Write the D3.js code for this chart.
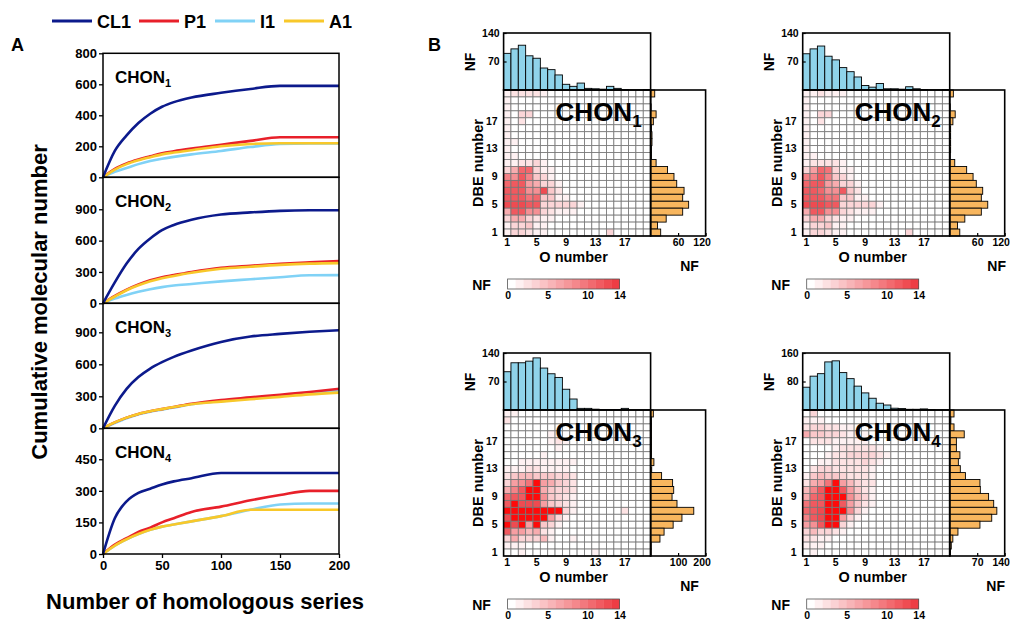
<!DOCTYPE html>
<html><head><meta charset="utf-8">
<script src="https://cdn.jsdelivr.net/npm/d3@7"></script>
<style>
body{margin:0;background:#fff}
svg text{font-family:"Liberation Sans",Arial,sans-serif;font-weight:bold;fill:#000}
</style></head>
<body><svg id="c" width="1012" height="621"></svg>
<script>
// ---------------- DATA ----------------
const seriesNames = ["CL1","P1","I1","A1"];
const seriesColors = {CL1:"#0c1a8c", P1:"#e8202a", I1:"#80d2f6", A1:"#f8c82a"};
const xSeries = [0,10,20,30,40,50,60,75,100,125,150,175,200];

const chon1Lines = {
  CL1:[0,170,270,350,410,455,485,515,545,570,590,590,590],
  P1:[0,55,90,115,135,155,168,185,210,235,258,258,258],
  A1:[0,50,85,110,130,148,160,175,200,215,220,220,220],
  I1:[0,35,60,85,105,120,132,148,170,195,215,218,218]
};
const chon2Lines = {
  CL1:[0,200,380,520,620,700,750,800,850,870,885,890,890],
  P1:[0,70,130,180,220,250,270,300,340,360,378,392,405],
  A1:[0,65,125,172,210,240,262,292,330,350,368,380,385],
  I1:[0,45,80,110,135,155,170,185,210,230,250,268,270]
};
const chon3Lines = {
  CL1:[0,210,370,480,560,620,670,730,810,860,885,905,920],
  P1:[0,55,100,135,160,180,200,230,265,290,315,340,370],
  I1:[0,50,95,130,155,175,195,225,255,280,305,330,355],
  A1:[0,55,100,135,160,180,200,225,250,272,295,318,335]
};
const chon4Lines = {
  CL1:[0,170,250,290,310,330,345,360,385,385,385,385,385],
  P1:[0,45,75,105,125,150,170,200,225,255,280,300,300],
  I1:[0,40,70,95,115,130,140,155,180,210,235,240,240],
  A1:[0,40,70,95,115,130,140,155,180,210,210,210,210]
};
const ticksA1 = [0,200,400,600,800];
const ticksA2 = [0,300,600,900];
const ticksA3 = [0,300,600,900];
const ticksA4 = [0,150,300,450];
const ticksAx = [0,50,100,150,200];

const oNumbers = [1,2,3,4,5,6,7,8,9,10,11,12,13,14,15,16,17,18,19,20];
const dbeNumbers = [21,20,19,18,17,16,15,14,13,12,11,10,9,8,7,6,5,4,3,2,1];
const oTicks = [1,5,9,13,17];
const dbeTicks = [1,5,9,13,17];
const cbTicks = [0,5,10,14];

// heat maps: rows DBE 21 (top) ... DBE 1 (bottom), columns O 1..20
const heat1 = [
 [1,2,2,2,2,1,0,0,0,0,0,0,0,0,0,0,0,0,0,0],
 [1,0,0,0,0,0,0,0,0,0,0,0,0,0,0,0,0,0,0,0],
 [1,0,0,0,0,0,0,0,0,0,0,0,0,0,0,0,0,0,0,0],
 [1,0,3,3,0,0,0,0,0,0,0,0,0,0,0,0,0,0,0,0],
 [1,0,2,0,0,0,0,0,0,0,0,0,0,0,0,0,0,0,0,0],
 [1,0,0,0,0,0,0,0,0,0,0,0,0,0,0,0,0,0,0,0],
 [1,0,0,0,0,0,0,0,0,0,0,0,0,0,0,0,0,0,0,0],
 [1,1,0,0,0,0,0,0,0,0,0,0,0,0,0,0,0,0,0,0],
 [1,0,0,0,0,0,0,0,0,0,0,0,0,0,0,0,0,0,0,0],
 [1,1,0,0,0,0,0,0,0,0,0,0,0,0,0,0,0,0,0,0],
 [1,1,2,2,3,1,0,0,0,0,0,0,0,0,0,0,0,0,0,0],
 [3,6,11,11,3,1,1,0,0,0,0,0,0,0,0,0,0,0,0,0],
 [9,8,12,9,4,3,1,0,0,0,0,0,0,0,0,0,0,0,0,0],
 [11,12,12,7,6,3,3,1,0,0,0,0,0,0,0,0,0,0,0,0],
 [12,12,12,8,8,13,4,2,0,0,0,0,0,0,0,0,0,0,0,0],
 [12,12,12,10,11,4,4,1,1,0,0,0,0,0,0,0,0,0,0,0],
 [13,13,13,12,12,3,3,3,3,3,1,0,0,0,0,0,0,0,0,0],
 [6,12,12,8,8,3,2,1,1,1,0,0,0,0,0,0,0,0,0,0],
 [3,6,6,3,2,1,1,0,0,0,0,0,0,0,0,0,0,0,0,0],
 [1,3,3,4,1,1,0,0,0,0,0,0,0,0,0,0,0,0,0,0],
 [1,3,3,2,1,1,0,0,0,0,0,0,0,0,3,0,0,0,0,0]
];
const heat2 = [
 [1,1,2,1,1,1,0,0,0,0,0,0,0,0,0,0,0,0,0,0],
 [1,0,0,0,0,0,0,0,0,0,0,0,0,0,0,0,0,0,0,0],
 [1,0,0,0,0,0,0,0,0,0,0,0,0,0,0,0,0,0,0,0],
 [1,0,3,3,0,0,0,0,0,0,0,0,0,0,0,0,0,0,0,0],
 [1,0,2,0,0,0,0,0,0,0,0,0,0,0,0,0,0,0,0,0],
 [1,0,0,0,0,0,0,0,0,0,0,0,0,0,0,0,0,0,0,0],
 [1,0,0,0,0,0,0,0,0,0,0,0,0,0,0,0,0,0,0,0],
 [1,0,0,0,0,0,0,0,0,0,0,0,0,0,0,0,0,0,0,0],
 [1,0,0,0,0,0,0,0,0,0,0,0,0,0,0,0,0,0,0,0],
 [1,1,0,0,0,0,0,0,0,0,0,0,0,0,0,0,0,0,0,0],
 [1,2,2,2,2,1,0,0,0,0,0,0,0,0,0,0,0,0,0,0],
 [3,7,11,10,3,1,1,0,0,0,0,0,0,0,0,0,0,0,0,0],
 [9,9,12,9,4,3,1,0,0,0,0,0,0,0,0,0,0,0,0,0],
 [11,12,12,7,6,3,3,1,0,0,0,0,0,0,0,0,0,0,0,0],
 [12,12,11,8,8,12,4,2,0,0,0,0,0,0,0,0,0,0,0,0],
 [12,12,12,10,10,4,4,1,1,0,0,0,0,0,0,0,0,0,0,0],
 [13,13,13,12,12,3,3,3,3,3,1,0,0,0,0,0,0,0,0,0],
 [6,12,12,8,8,3,2,1,1,1,0,0,0,0,0,0,0,0,0,0],
 [3,6,6,3,2,1,1,0,0,0,0,0,0,0,0,0,0,0,0,0],
 [1,3,3,4,1,1,0,0,0,0,0,0,0,0,0,0,0,0,0,0],
 [1,3,3,2,1,1,0,0,0,0,0,0,0,0,3,0,0,0,0,0]
];
const heat3 = [
 [1,1,0,0,0,0,0,0,0,0,0,0,0,0,0,0,0,0,0,0],
 [2,0,0,0,0,0,0,0,0,0,0,0,0,0,0,0,0,0,0,0],
 [0,0,0,0,0,0,0,0,0,0,0,0,0,0,0,0,0,0,0,0],
 [0,0,0,0,0,0,1,1,0,0,0,0,0,0,0,0,0,0,0,0],
 [0,0,0,0,0,0,1,2,1,0,0,0,0,0,0,0,0,0,0,0],
 [0,0,0,0,0,0,0,1,0,0,0,0,0,0,0,0,0,0,0,0],
 [0,0,0,0,0,1,0,0,0,0,0,0,0,0,0,0,0,0,0,0],
 [0,0,1,1,1,1,1,1,1,1,0,0,0,0,0,0,0,0,0,0],
 [1,1,1,2,2,1,1,1,1,0,0,0,0,0,0,0,0,0,0,0],
 [2,4,5,5,4,4,4,3,3,2,0,0,0,0,0,0,0,0,0,0],
 [3,7,8,10,16,7,6,4,3,2,0,0,0,0,0,0,0,0,0,0],
 [6,9,12,16,16,6,4,3,3,2,0,0,0,0,0,0,0,0,0,0],
 [11,12,12,16,16,8,4,3,2,1,0,0,0,0,0,0,0,0,0,0],
 [12,16,13,13,13,7,4,3,2,1,0,0,0,0,0,0,0,0,0,0],
 [16,16,16,16,16,16,16,16,3,1,0,0,0,0,0,0,2,0,0,0],
 [13,16,16,16,16,16,7,3,1,0,0,0,0,0,0,0,0,0,0,0],
 [16,13,16,7,16,4,3,1,0,0,0,0,0,0,0,0,0,0,0,0],
 [12,7,7,5,6,2,1,0,0,0,0,0,0,0,0,0,0,0,0,0],
 [3,6,3,3,3,5,1,0,0,1,0,0,0,0,0,0,0,0,0,0],
 [1,1,1,0,0,0,0,0,0,0,0,0,0,0,0,0,0,0,0,0],
 [0,0,1,0,0,0,0,0,0,0,0,0,1,0,0,0,0,0,0,0]
];
const heat4 = [
 [0,3,0,0,0,0,0,0,0,0,0,0,0,0,0,0,0,0,0,0],
 [1,1,1,0,0,0,0,0,0,0,0,0,0,0,0,0,0,0,0,0],
 [2,3,3,2,2,1,1,0,0,0,0,0,0,0,0,0,0,0,0,0],
 [6,4,4,3,3,2,1,1,1,0,0,0,0,0,0,0,0,0,0,0],
 [0,2,2,2,1,1,1,1,1,0,0,0,0,0,0,0,0,0,0,0],
 [0,0,0,0,1,2,2,2,2,2,1,0,0,0,0,0,0,0,0,0],
 [0,0,0,1,2,2,3,3,3,3,2,1,0,0,0,0,0,0,0,0],
 [0,0,1,1,2,2,2,2,3,2,1,0,0,0,0,0,0,0,0,0],
 [0,2,3,3,2,2,2,2,2,1,0,0,0,0,0,0,0,0,0,0],
 [1,4,5,4,4,3,2,2,2,1,0,0,0,0,0,0,0,0,0,0],
 [2,6,7,10,16,7,5,3,2,2,0,0,0,0,0,0,0,0,0,0],
 [5,9,12,16,16,12,7,4,2,1,0,0,0,0,0,0,0,0,0,0],
 [6,11,12,16,16,16,8,5,3,1,0,0,0,0,0,0,0,0,0,0],
 [10,12,12,16,16,12,7,4,2,1,0,0,0,0,0,0,0,0,0,0],
 [11,12,13,16,16,16,8,3,1,0,0,0,0,0,0,0,0,0,0,0],
 [9,12,13,16,16,7,3,1,0,0,0,0,0,0,0,0,0,0,0,0],
 [7,8,12,16,16,3,1,0,0,0,0,0,0,0,0,0,0,0,0,0],
 [3,5,3,3,2,1,0,0,0,0,0,0,0,0,0,0,0,0,0,0],
 [2,2,1,1,0,0,0,0,0,0,0,0,0,0,0,0,0,0,0,0],
 [1,1,1,0,0,0,0,0,0,0,0,0,0,0,0,0,0,0,0,0],
 [0,1,0,0,0,0,0,0,0,0,0,0,0,0,0,0,0,0,0,0]
];
// top histograms (O 1..20)
const top1 = [90,101,110,84,78,54,50,37,14,9,17,4,3,2,9,4,1,0,0,1];
const top2 = [89,101,108,83,74,55,45,32,11,7,16,3,3,2,8,3,1,0,0,1];
const top3 = [94,116,116,120,128,103,89,80,51,27,4,4,2,1,1,1,4,0,0,0];
const top4 = [64,95,102,135,138,105,88,67,48,33,19,14,5,4,2,2,3,1,0,0];
// right histograms (DBE 21 .. 1)
const right1 = [9,0,1,12,6,2,3,3,2,2,12,37,51,57,73,70,83,70,34,15,22];
const right2 = [8,0,1,12,7,2,2,2,2,1,11,37,51,58,72,69,83,69,33,17,22];
const right3 = [10,3,3,3,3,3,3,12,4,40,80,84,78,96,157,114,82,49,34,2,2];
const right4 = [11,3,11,37,17,17,26,22,27,40,77,78,99,112,120,107,77,21,8,4,2];
const topTicks1 = [70,140], topTicks3 = [70,140], topTicks4 = [80,160];
const rightTicks1 = [60,120], rightTicks3 = [100,200], rightTicks4 = [70,140];

// ---------------- DRAW ----------------
const svg = d3.select("#c");
const FONT = '"Liberation Sans",Arial,sans-serif';

// legend
const legX = [52,139,215,284];
seriesNames.forEach((n,i)=>{
  svg.append("line").attr("x1",legX[i]).attr("x2",legX[i]+40).attr("y1",21).attr("y2",21)
    .attr("stroke",seriesColors[n]).attr("stroke-width",3);
  svg.append("text").attr("x",legX[i]+45).attr("y",28).attr("font-size",18).text(n);
});
svg.append("text").attr("x",11).attr("y",51).attr("font-size",18).text("A");
svg.append("text").attr("x",428).attr("y",51).attr("font-size",18).text("B");

// panel A
const xA = d3.scaleLinear().domain([0,200]).range([103,339]);
const subs = [
  {sub:"1", top:53.3, bottom:177.3, max:800, ticks:ticksA1, data:chon1Lines},
  {sub:"2", top:177.3, bottom:303.3, max:1206, ticks:ticksA2, data:chon2Lines},
  {sub:"3", top:303.3, bottom:428.3, max:1172, ticks:ticksA3, data:chon3Lines},
  {sub:"4", top:428.3, bottom:554, max:597, ticks:ticksA4, data:chon4Lines}
];
const drawOrder = ["I1","P1","A1","CL1"];
subs.forEach((s,si)=>{
  const y = d3.scaleLinear().domain([0,s.max]).range([s.bottom,s.top]);
  const g = svg.append("g");
  const ax = g.append("g").attr("transform",`translate(${xA(0)},0)`)
    .call(d3.axisLeft(y).tickValues(s.ticks).tickSize(4).tickPadding(2).tickSizeOuter(0));
  ax.select(".domain").remove();
  ax.selectAll("text").attr("font-size",13).attr("font-family",FONT).attr("font-weight","bold");
  ax.selectAll("line").attr("stroke-width",1.3);
  const line = d3.line().x((d,i)=>xA(xSeries[i])).y(d=>y(d)).curve(d3.curveMonotoneX);
  drawOrder.forEach(n=>{
    g.append("path").datum(s.data[n]).attr("d",line).attr("fill","none")
      .attr("stroke",seriesColors[n]).attr("stroke-width",2.6);
  });
  g.append("rect").attr("x",xA(0)).attr("y",s.top).attr("width",xA(200)-xA(0)).attr("height",s.bottom-s.top)
    .attr("fill","none").attr("stroke","#000").attr("stroke-width",1.5);
  const t = g.append("text").attr("x",115).attr("y",s.top+30).attr("font-size",17);
  t.append("tspan").text("CHON");
  t.append("tspan").attr("font-size",11).attr("dy",4).text(s.sub);
  if(si===3){
    const xa = g.append("g").attr("transform",`translate(0,${s.bottom})`)
      .call(d3.axisBottom(xA).tickValues(ticksAx).tickSize(4).tickPadding(3).tickSizeOuter(0));
    xa.select(".domain").remove();
    xa.selectAll("text").attr("font-size",13).attr("font-family",FONT).attr("font-weight","bold");
    xa.selectAll("line").attr("stroke-width",1.3);
  }
});
svg.append("text").attr("transform","translate(47,302) rotate(-90)").attr("text-anchor","middle")
  .attr("font-size",22).text("Cumulative molecular number");
svg.append("text").attr("x",205).attr("y",609).attr("text-anchor","middle")
  .attr("font-size",22).text("Number of homologous series");

// panel B
const color = d3.scaleLinear().domain([0,14,14.5,20]).range(["#ffffff","#ee3d44","#ff0a0a","#ff0a0a"]).clamp(true);
const FW = 147, FH = 146, TH = 57, RW = 55;
const panels = [
  {x0:503.6, y0:90, heat:heat1, top:top1, right:right1, topMax:140, topT:topTicks1, rMax:120, rT:rightTicks1, sub:"1", nfx:186},
  {x0:802.7, y0:90, heat:heat2, top:top2, right:right2, topMax:140, topT:topTicks1, rMax:120, rT:rightTicks1, sub:"2", nfx:194},
  {x0:503.6, y0:410, heat:heat3, top:top3, right:right3, topMax:140, topT:topTicks3, rMax:200, rT:rightTicks3, sub:"3", nfx:186},
  {x0:802.7, y0:410, heat:heat4, top:top4, right:right4, topMax:160, topT:topTicks4, rMax:140, rT:rightTicks4, sub:"4", nfx:193}
];
function styleAxis(a, fs){
  a.select(".domain").remove();
  a.selectAll("text").attr("font-size",fs).attr("font-family",FONT).attr("font-weight","bold");
  a.selectAll("line").attr("stroke","#000").attr("stroke-width",1.2);
  return a;
}
panels.forEach(p=>{
  const g = svg.append("g");
  const x = d3.scaleBand().domain(oNumbers).range([p.x0,p.x0+FW]);
  const y = d3.scaleBand().domain(dbeNumbers).range([p.y0,p.y0+FH]);
  // cells
  const cells = [];
  p.heat.forEach((row,ri)=>row.forEach((v,ci)=>cells.push({o:oNumbers[ci],d:dbeNumbers[ri],v})));
  g.selectAll("rect.cell").data(cells).join("rect").attr("class","cell")
    .attr("x",d=>x(d.o)).attr("y",d=>y(d.d)).attr("width",x.bandwidth()).attr("height",y.bandwidth())
    .attr("fill",d=>color(d.v)).attr("stroke","#777").attr("stroke-width",0.8);
  // top hist
  const yt = d3.scaleLinear().domain([0,p.topMax]).range([p.y0,p.y0-TH]);
  g.selectAll("rect.th").data(p.top).join("rect").attr("class","th")
    .attr("x",(d,i)=>x(oNumbers[i])).attr("width",x.bandwidth())
    .attr("y",d=>yt(d)).attr("height",d=>p.y0-yt(d))
    .attr("fill","#8fd3ea").attr("stroke","#000").attr("stroke-width",0.9);
  // right hist
  const xr = d3.scaleLinear().domain([0,p.rMax]).range([p.x0+FW,p.x0+FW+RW]);
  g.selectAll("rect.rh").data(p.right).join("rect").attr("class","rh")
    .attr("y",(d,i)=>y(dbeNumbers[i])).attr("height",y.bandwidth())
    .attr("x",xr(0)).attr("width",d=>xr(d)-xr(0))
    .attr("fill","#f8b65e").attr("stroke","#000").attr("stroke-width",0.9);
  // frames
  g.append("rect").attr("x",p.x0).attr("y",p.y0-TH).attr("width",FW).attr("height",TH)
    .attr("fill","none").attr("stroke","#000").attr("stroke-width",1.6);
  g.append("rect").attr("x",p.x0).attr("y",p.y0).attr("width",FW).attr("height",FH)
    .attr("fill","none").attr("stroke","#000").attr("stroke-width",1.6);
  g.append("rect").attr("x",p.x0+FW).attr("y",p.y0).attr("width",RW).attr("height",FH)
    .attr("fill","none").attr("stroke","#000").attr("stroke-width",1.6);
  // axes
  styleAxis(g.append("g").attr("transform",`translate(0,${p.y0+FH})`)
    .call(d3.axisBottom(x).tickValues(oTicks).tickSize(0).tickPadding(3)), 10.5);
  styleAxis(g.append("g").attr("transform",`translate(${p.x0},0)`)
    .call(d3.axisLeft(y).tickValues(dbeTicks).tickSize(0).tickPadding(6)), 10.5);
  styleAxis(g.append("g").attr("transform",`translate(${p.x0},0)`)
    .call(d3.axisLeft(yt).tickValues(p.topT).tickSizeInner(-3).tickSizeOuter(0).tickPadding(4)), 10.5);
  const ra = styleAxis(g.append("g").attr("transform",`translate(0,${p.y0+FH})`)
    .call(d3.axisBottom(xr).tickValues(p.rT).tickSizeInner(-3).tickSizeOuter(0).tickPadding(3)), 10.5);
  ra.selectAll("text").filter(d=>d===p.rMax).attr("dx",-4);
  // labels
  g.append("text").attr("transform",`translate(${p.x0-29},${p.y0-28}) rotate(-90)`).attr("text-anchor","middle")
    .attr("font-size",14).text("NF");
  g.append("text").attr("transform",`translate(${p.x0-21},${p.y0+73}) rotate(-90)`).attr("text-anchor","middle")
    .attr("font-size",14.5).text("DBE number");
  g.append("text").attr("x",p.x0+70).attr("y",p.y0+172).attr("text-anchor","middle")
    .attr("font-size",14.5).text("O number");
  g.append("text").attr("x",p.x0+p.nfx).attr("y",p.y0+181).attr("text-anchor","middle")
    .attr("font-size",14).text("NF");
  const t = g.append("text").attr("x",p.x0+52).attr("y",p.y0+31).attr("font-size",26);
  t.append("tspan").text("CHON");
  t.append("tspan").attr("font-size",17).attr("dy",6).text(p.sub);
  // colorbar
  const cx = d3.scaleLinear().domain([0,14]).range([p.x0+4,p.x0+116]);
  const cbY = p.y0+189;
  const steps = [0,1,2,3,4,5,6,7,8,9,10,11,12,13];
  g.selectAll("rect.cb").data(steps).join("rect").attr("class","cb")
    .attr("x",d=>cx(d)).attr("width",cx(1)-cx(0)+0.3).attr("y",cbY).attr("height",10)
    .attr("fill",d=>color(d*14/13));
  g.append("rect").attr("x",cx(0)).attr("y",cbY).attr("width",cx(14)-cx(0)).attr("height",10)
    .attr("fill","none").attr("stroke","#555").attr("stroke-width",0.8);
  styleAxis(g.append("g").attr("transform",`translate(0,${cbY+10})`)
    .call(d3.axisBottom(cx).tickValues(cbTicks).tickSize(0).tickPadding(3)), 10.5);
  g.append("text").attr("x",p.x0-22).attr("y",cbY+11).attr("text-anchor","middle")
    .attr("font-size",14).text("NF");
});
</script></body></html>
